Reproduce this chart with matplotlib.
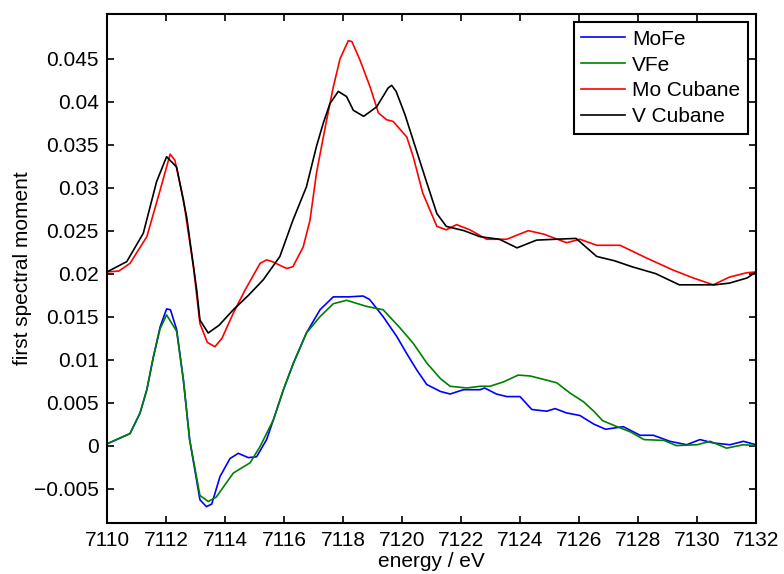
import matplotlib
matplotlib.use("Agg")
import matplotlib.pyplot as plt
from matplotlib.ticker import FuncFormatter

plt.rcParams['font.family'] = ['Liberation Sans', 'DejaVu Sans']

# --- data --------------------------------------------------------------------
mofe_x = [7110, 7110.78, 7111.12, 7111.35, 7111.57, 7111.8, 7112.02, 7112.15, 7112.36, 7112.59,
          7112.8, 7113.15, 7113.37, 7113.55, 7113.83, 7114.17, 7114.45, 7114.79, 7115.07, 7115.41,
          7115.64, 7115.98, 7116.32, 7116.76, 7117.22, 7117.67, 7118.2, 7118.68, 7118.9, 7119.36,
          7119.82, 7120.16, 7120.5, 7120.84, 7121.3, 7121.63, 7122.08, 7122.65, 7122.8, 7123.2,
          7123.55, 7124.0, 7124.4, 7124.9, 7125.19, 7125.58, 7126.03, 7126.5, 7126.9, 7127.5,
          7128.07, 7128.52, 7129.08, 7129.65, 7130.1, 7130.56, 7131.12, 7131.57, 7132]
mofe_y = [0.0002, 0.0014, 0.0038, 0.0065, 0.0103, 0.0138, 0.0159, 0.0158, 0.0135, 0.0076,
          0.0007, -0.0063, -0.0071, -0.0068, -0.0036, -0.0015, -0.0009, -0.0014, -0.0013, 0.0007,
          0.0030, 0.0065, 0.0096, 0.0131, 0.0158, 0.0173, 0.0173, 0.0174, 0.0170, 0.0150,
          0.0127, 0.0107, 0.0088, 0.0071, 0.0063, 0.0060, 0.0065, 0.0065, 0.0067, 0.0060,
          0.0057, 0.0057, 0.0042, 0.0040, 0.0043, 0.0038, 0.0035, 0.0025, 0.0019, 0.0022,
          0.0012, 0.0012, 0.0005, 0.0001, 0.0007, 0.0003, 0.0001, 0.0005, 0.0001]

vfe_x = [7110, 7110.78, 7111.12, 7111.35, 7111.57, 7111.8, 7112.02, 7112.36, 7112.59, 7112.8,
         7113.15, 7113.43, 7113.7, 7114.28, 7114.85, 7115.19, 7115.64, 7115.98, 7116.32, 7116.76,
         7117.22, 7117.67, 7118.12, 7118.79, 7119.36, 7119.93, 7120.38, 7120.84, 7121.3, 7121.63,
         7122.19, 7122.65, 7122.98, 7123.43, 7123.94, 7124.34, 7124.8, 7125.25, 7125.7, 7126.15,
         7126.5, 7126.8, 7127.29, 7127.74, 7128.2, 7128.88, 7129.3, 7130, 7130.45, 7131,
         7131.57, 7132]
vfe_y = [0.0002, 0.0014, 0.0038, 0.0065, 0.0103, 0.0136, 0.0152, 0.0133, 0.0076, 0.0007,
         -0.0058, -0.0065, -0.0060, -0.0032, -0.0020, -0.0001, 0.0030, 0.0065, 0.0096, 0.0131,
         0.0150, 0.0165, 0.0169, 0.0162, 0.0158, 0.0137, 0.0119, 0.0096, 0.0078, 0.0069,
         0.0067, 0.0069, 0.0069, 0.0074, 0.0082, 0.0081, 0.0077, 0.0073, 0.0061, 0.0051,
         0.0040, 0.0029, 0.0022, 0.0016, 0.0007, 0.0006, 0.0000, 0.0001, 0.0005, -0.0003,
         0.0001, 0.0000]

mo_cub_x = [7110, 7110.4, 7110.78, 7111.35, 7111.8, 7112.14, 7112.3, 7112.59, 7112.93, 7113.15,
            7113.4, 7113.66, 7113.9, 7114.28, 7114.68, 7115.19, 7115.41, 7115.6, 7116.09, 7116.3,
            7116.65, 7116.88, 7117.1, 7117.4, 7117.67, 7117.9, 7118.18, 7118.3, 7118.58, 7118.92,
            7119.2, 7119.48, 7119.7, 7120.16, 7120.38, 7120.7, 7121.18, 7121.5, 7121.85, 7122.3,
            7122.87, 7123.55, 7124.28, 7124.8, 7125.58, 7126.03, 7126.6, 7127.39, 7128.3, 7129.2,
            7129.87, 7130.55, 7131.1, 7131.68, 7132]
mo_cub_y = [0.0202, 0.0203, 0.0212, 0.0243, 0.0297, 0.0339, 0.0332, 0.0286, 0.0208, 0.0142,
            0.0120, 0.0115, 0.0125, 0.0154, 0.0181, 0.0212, 0.0216, 0.0214, 0.0206, 0.0208,
            0.0231, 0.0262, 0.0317, 0.0371, 0.0417, 0.0450, 0.0471, 0.0470, 0.0448, 0.0417,
            0.0387, 0.0379, 0.0377, 0.0359, 0.0336, 0.0294, 0.0255, 0.0251, 0.0257, 0.0251,
            0.0240, 0.0240, 0.0250, 0.0246, 0.0236, 0.0240, 0.0233, 0.0233, 0.0218, 0.0204,
            0.0195, 0.0187, 0.0196, 0.0201, 0.0202]

v_cub_x = [7110, 7110.67, 7111.23, 7111.68, 7112.02, 7112.36, 7112.7, 7113.04, 7113.15, 7113.43,
           7113.8, 7114.28, 7114.8, 7115.3, 7115.86, 7116.3, 7116.76, 7117.1, 7117.33, 7117.56,
           7117.84, 7118.12, 7118.35, 7118.7, 7119.14, 7119.53, 7119.65, 7119.8, 7120.1, 7120.38,
           7120.8, 7121.18, 7121.5, 7122.1, 7122.64, 7123.3, 7123.9, 7124.56, 7125.2, 7125.9,
           7126.6, 7127.2, 7127.8, 7128.6, 7129.4, 7130.1, 7130.6, 7131.1, 7131.7, 7132]
v_cub_y = [0.0202, 0.0214, 0.0247, 0.0307, 0.0336, 0.0324, 0.0266, 0.0181, 0.0146, 0.0131,
           0.0140, 0.0158, 0.0175, 0.0193, 0.0220, 0.0262, 0.0301, 0.0348, 0.0375, 0.0398,
           0.0412, 0.0406, 0.0390, 0.0383, 0.0394, 0.0416, 0.0419, 0.0412, 0.0385, 0.0355,
           0.0310, 0.0270, 0.0255, 0.0250, 0.0243, 0.0240, 0.0230, 0.0239, 0.0240, 0.0241,
           0.0220, 0.0215, 0.0208, 0.0200, 0.0187, 0.0187, 0.0187, 0.0189, 0.0195, 0.0202]

x_ticks = list(range(7110, 7133, 2))
y_ticks = [-0.005, 0, 0.005, 0.01, 0.015, 0.02, 0.025, 0.03, 0.035, 0.04, 0.045]

# --- plot --------------------------------------------------------------------
fig = plt.figure(figsize=(7.84, 5.74), dpi=100)
ax = fig.add_axes([0.1365, 0.0889, 0.8278, 0.8867])

lw = 1.2
ax.plot(mofe_x, mofe_y, color=(0, 0, 1), lw=lw, label="MoFe")
ax.plot(vfe_x, vfe_y, color=(0, 0.5, 0), lw=lw, label="VFe")
ax.plot(mo_cub_x, mo_cub_y, color=(1, 0, 0), lw=lw, label="Mo Cubane")
ax.plot(v_cub_x, v_cub_y, color="black", lw=lw, label="V Cubane")

ax.set_xlim(7110, 7132)
ax.set_ylim(-0.009, 0.0502)
ax.set_xticks(x_ticks)
ax.set_yticks(y_ticks)
ax.ticklabel_format(axis="x", useOffset=False)
# matlab style labels: 0.01 not 0.010, proper minus sign
ax.yaxis.set_major_formatter(
    FuncFormatter(lambda v, p: ("%g" % round(v, 4)).replace("-", "\u2212")))
ax.tick_params(direction="in", top=True, right=True, length=5, width=1.2,
               labelsize=15, pad=6)
for s in ax.spines.values():
    s.set_linewidth(1.5)

ax.set_xlabel("energy / eV", fontsize=15, labelpad=1)
ax.set_ylabel("first spectral moment", fontsize=15, labelpad=1)

leg = ax.legend(loc="upper right", fontsize=15, fancybox=False, framealpha=1,
                edgecolor="black", borderaxespad=0.4, handlelength=2.1,
                handletextpad=0.35, labelspacing=0.33, borderpad=0.35)
leg.get_frame().set_linewidth(1.5)

fig.savefig("out.png", dpi=100)
